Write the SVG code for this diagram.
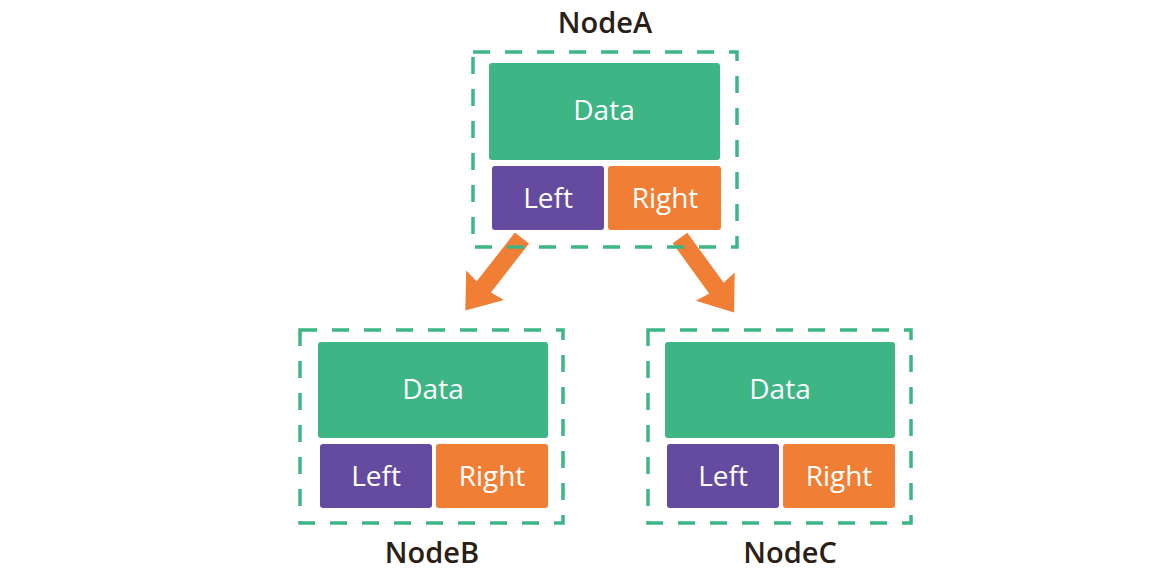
<svg xmlns="http://www.w3.org/2000/svg" width="1175" height="574" viewBox="0 0 1175 574">
<style>
.frame{fill:none;stroke:#3db585;stroke-width:3.5;stroke-dasharray:17 15}
.data{fill:#3db585}
.left{fill:#654ba0}
.right{fill:#f07f35}
.in{font-family:"Open Sans","DejaVu Sans",sans-serif;font-size:28px;fill:#ffffff;text-anchor:middle}
.lbl{font-family:"Open Sans","DejaVu Sans",sans-serif;font-size:29px;font-weight:600;fill:#2b2016;text-anchor:middle}
.arrow{fill:#f07f35}
</style>
<defs>
<path id="arr" d="M-9,0 L9,0 L9,62 L24,60 L0,92 L-24,60 L-9,62 Z"/>
</defs>
<rect width="1175" height="574" fill="#ffffff"/>
<g id="connectors">
<use href="#arr" class="arrow" transform="translate(522,238) rotate(38)"/>
<use href="#arr" class="arrow" transform="translate(680,238) rotate(-36)"/>
</g>
<g id="nodeA">
<rect class="frame" x="473" y="52" width="264" height="195"/>
<rect class="data" x="489" y="63" width="231" height="97" rx="3"/>
<rect class="left" x="492" y="166" width="112" height="64" rx="3"/>
<rect class="right" x="608" y="166" width="113" height="64" rx="3"/>
<text class="in" x="604" y="120">Data</text>
<text class="in" x="548" y="208">Left</text>
<text class="in" x="665" y="208">Right</text>
<text class="lbl" x="605" y="33">NodeA</text>
</g>
<g id="nodeB">
<rect class="frame" x="300" y="330" width="263" height="193"/>
<rect class="data" x="318" y="342" width="230" height="96" rx="3"/>
<rect class="left" x="320" y="444" width="112" height="64" rx="3"/>
<rect class="right" x="436" y="444" width="112" height="64" rx="3"/>
<text class="in" x="433" y="399">Data</text>
<text class="in" x="376" y="486">Left</text>
<text class="in" x="492" y="486">Right</text>
<text class="lbl" x="432" y="563">NodeB</text>
</g>
<g id="nodeC">
<rect class="frame" x="648" y="330" width="263" height="193"/>
<rect class="data" x="665" y="342" width="230" height="96" rx="3"/>
<rect class="left" x="667" y="444" width="112" height="64" rx="3"/>
<rect class="right" x="783" y="444" width="112" height="64" rx="3"/>
<text class="in" x="780" y="399">Data</text>
<text class="in" x="723" y="486">Left</text>
<text class="in" x="839" y="486">Right</text>
<text class="lbl" x="790" y="563">NodeC</text>
</g>
</svg>
